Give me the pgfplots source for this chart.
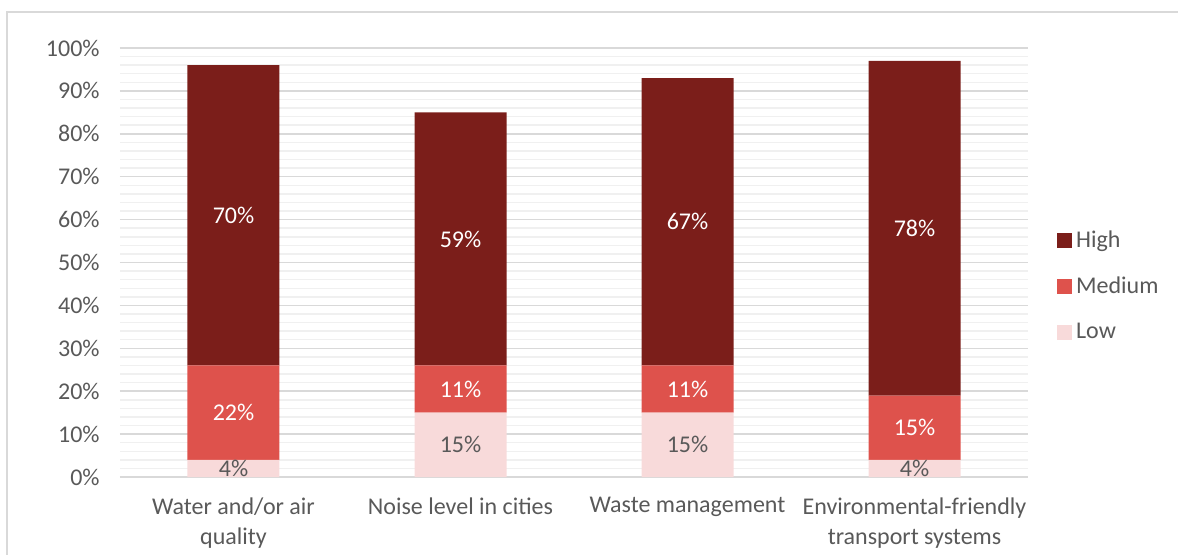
\documentclass[border=0pt]{standalone}
\usepackage{pgfplots}
\pgfplotsset{compat=1.18}
\usepackage{fontspec}
\setmainfont{Carlito}
\definecolor{hiC}{HTML}{7B1E1A}
\definecolor{meC}{HTML}{DE524C}
\definecolor{loC}{HTML}{F8DADA}
\definecolor{txt}{HTML}{595959}
\definecolor{majg}{HTML}{D9D9D9}
\definecolor{ming}{HTML}{F0F0F0}
\begin{document}
\fontsize{12}{14.5}\selectfont
\begin{tikzpicture}
\useasboundingbox (-60pt,-38.5pt) rectangle (529pt,238.5pt);
\draw[majg, line width=0.6pt] (-56.5pt,-60pt) -- (-56.5pt,232.5pt) -- (600pt,232.5pt);
\begin{axis}[
    at={(0,0)}, anchor=south west,
    scale only axis,
    width=454pt, height=214.5pt,
    ybar stacked,
    bar width=46pt,
    xmin=-0.5, xmax=3.5,
    ymin=0, ymax=100,
    xtick={0,1,2,3},
    xticklabels={{Water and/or air\\quality},{Noise level in cities},{Waste management},{Environmental-friendly\\transport systems}},
    xticklabel style={align=center, text=txt, font=\fontsize{12}{15}\selectfont, yshift=-6pt},
    ytick={0,10,...,100},
    yticklabel={\pgfmathprintnumber{\tick}\%},
    yticklabel style={text=txt, xshift=-6pt},
    /pgf/number format/assume math mode=true,
    minor y tick num=4,
    ymajorgrids, yminorgrids,
    major grid style={majg, line width=0.75pt},
    minor grid style={ming, line width=0.75pt},
    major tick length=0pt, minor tick length=0pt,
    axis x line*=bottom, axis y line*=left,
    x axis line style={draw=majg, line width=0.75pt, -},
    y axis line style={draw=none},
    legend style={draw=none, at={(1.025,0.445)}, anchor=west, text=txt,
        row sep=9pt, font=\fontsize{12}{14.5}\selectfont},
    legend cell align=left,
    reverse legend,
    legend image code/.code={\fill (0pt,-3.75pt) rectangle (7.5pt,3.75pt);},
    nodes near coords={\pgfmathprintnumber{\pgfplotspointmeta}\%},
    every node near coord/.append style={anchor=center},
    point meta=rawy,
]
\addplot[fill=loC, draw=none, every node near coord/.append style={text=txt}] coordinates {(0,4) (1,15) (2,15) (3,4)};
\addplot[fill=meC, draw=none, every node near coord/.append style={text=white}] coordinates {(0,22) (1,11) (2,11) (3,15)};
\addplot[fill=hiC, draw=none, every node near coord/.append style={text=white}] coordinates {(0,70) (1,59) (2,67) (3,78)};
\legend{Low,Medium,High}
\end{axis}
\end{tikzpicture}
\end{document}
